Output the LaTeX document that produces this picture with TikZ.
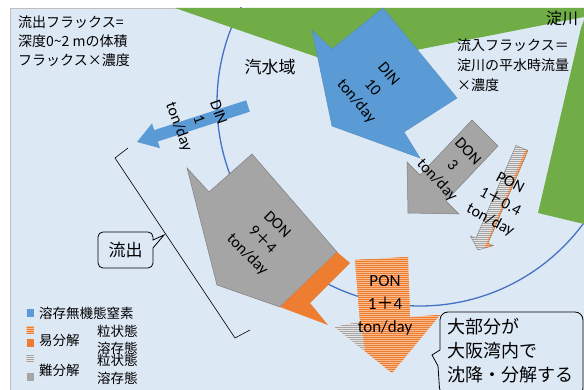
\documentclass[tikz,border=0pt]{standalone}
\usepackage{fontspec}
\setmainfont{Carlito}
\newfontfamily\jp{Noto Sans CJK JP}
\usetikzlibrary{patterns}
\definecolor{bgblue}{HTML}{DDE8F5}
\definecolor{landgreen}{HTML}{70AD47}
\definecolor{dinblue}{HTML}{5B9BD5}
\definecolor{accorange}{HTML}{ED7D31}
\definecolor{lightorange}{HTML}{F8B98C}
\definecolor{accgray}{HTML}{A5A5A5}
\definecolor{edgegray}{HTML}{7F7F7F}
\definecolor{circblue}{HTML}{4472C4}
\pgfdeclarepatternformonly{finelines}{\pgfqpoint{-1pt}{-1pt}}{\pgfqpoint{3pt}{3pt}}{\pgfqpoint{2pt}{2pt}}{%
  \pgfsetlinewidth{0.8pt}%
  \pgfpathmoveto{\pgfqpoint{-1pt}{0.5pt}}\pgfpathlineto{\pgfqpoint{3pt}{0.5pt}}\pgfusepath{stroke}}
\tikzset{
  land/.style={fill=landgreen},
  dinarrow/.style={fill=dinblue, draw=dinblue!90!black, line width=0.4pt},
  grayarrow/.style={fill=accgray, draw=edgegray, line width=0.5pt},
  orangesolid/.style={fill=accorange},
  hatchorange/.style={fill=lightorange, postaction={pattern=finelines, pattern color=accorange}},
  hatchgray/.style={fill=gray!20, postaction={pattern=finelines, pattern color=accgray}},
  flowlabel/.style={font=\fontsize{16}{21}\selectfont, align=center, inner sep=0pt, text=black},
  jplabel/.style={font=\jp\fontsize{14}{19}\selectfont, align=left, inner sep=0pt, text=black},
  legendtext/.style={font=\jp\fontsize{13.5}{16}\selectfont, inner sep=0pt, anchor=west},
  swatch/.style={minimum width=7pt, minimum height=7.5pt, inner sep=0pt},
  callout/.style={draw=black, line width=0.8pt, fill=bgblue},
  bracketline/.style={draw=black, line width=0.6pt},
}
\begin{document}
\begin{tikzpicture}[x=1pt,y=-1pt]
\useasboundingbox (0,0) rectangle (584,390);
\fill[white] (0,0) rectangle (584,390);
\fill[bgblue] (10,8) rectangle (584,390);
\draw[gray!50, line width=0.6pt] (10,390) -- (10,8) -- (584,8);
% estuary circle
\begin{scope}
  \clip (10,8) rectangle (584,390);
  \draw[circblue, line width=1.3pt] (420,103) circle[radius=203];
\end{scope}
% land
\fill[land] (175,8) -- (340,65) -- (584,17) -- (584,8) -- cycle;
\fill[land] (584,20) -- (581,28) -- (538,213) -- (584,224) -- cycle;
% DIN 10 arrow
\filldraw[dinarrow] (312,30) -- (332,49) -- (383,8) -- (457,98) -- (404,132) -- (420,158) -- (332,126) -- cycle;
% DIN 1 arrow
\fill[dinblue] (246.2,100.3) -- (249.8,111.7) -- (157.8,141.5) -- (160.0,148.2) -- (137,142) -- (152.0,123.4) -- (154.2,130.1) -- cycle;
% DON 3 arrow
\filldraw[grayarrow] (472,120) -- (498,146) -- (446,201) -- (459,214) -- (408,213) -- (407,162) -- (420,175) -- cycle;
% PON 1+0.4 arrow
\begin{scope}
  \clip (516.0,145.5) -- (528.0,150.5) -- (487.9,243.3) -- (493.4,245.6) -- (478,250) -- (470.4,236.0) -- (475.9,238.3) -- cycle;
  \fill[hatchgray] (460,130) rectangle (560,260);
  \fill[hatchorange] (533.4,131.1) -- (475.4,269.4) -- (493.8,277.1) -- (551.8,138.8) -- cycle;
\end{scope}
\draw[edgegray, line width=0.4pt] (516.0,145.5) -- (528.0,150.5) -- (487.9,243.3) -- (493.4,245.6) -- (478,250) -- (470.4,236.0) -- (475.9,238.3) -- cycle;
% DON 9+4 arrow
\filldraw[grayarrow] (187,168) -- (209,192) -- (252,154) -- (337,252) -- (280,307) -- (217,285) -- cycle;
\fill[orangesolid] (337,252) -- (350,263) -- (310,303) -- (328,325) -- (280,307) -- cycle;
% PON 1+4 arrow
\fill[hatchorange] (355,260) -- (408,257) -- (410,317) -- (440,315) -- (392,373) -- (335,327) -- (360,322) -- cycle;
\fill[hatchgray] (335,327) -- (360,322) -- (365,351) -- cycle;
% flow labels
\node[flowlabel, rotate=-50] (din10) at (372,88) {DIN\\10\\ton/day};
\node[flowlabel, rotate=-70] (din1) at (198,120) {DIN\\1\\ton/day};
\node[flowlabel, rotate=-47] (don3) at (452,166) {DON\\3\\ton/day};
\node[flowlabel, rotate=-28] (pon04) at (500,202) {PON\\1{\jp ＋}0.4\\ton/day};
\node[flowlabel, rotate=-45] (don94) at (262,240) {DON\\9{\jp ＋}4\\ton/day};
\node[flowlabel, font=\fontsize{17}{23}\selectfont] (pon14) at (385,305) {PON\\1{\jp ＋}4\\ton/day};
% texts
\node[jplabel, anchor=north west] (outflux) at (18,16) {流出フラックス=\\深度0\symbol{"7E}2 mの体積\\フラックス×濃度};
\node[jplabel, font=\jp\fontsize{17}{20}\selectfont] (kisui) at (270,67) {汽水域};
\node[jplabel, font=\jp\fontsize{16}{20}\selectfont] (yodo) at (562,18) {淀川};
\node[jplabel, anchor=north west, font=\jp\fontsize{14}{20}\selectfont] (influx) at (457,39) {流入フラックス＝\\淀川の平水時流量\\×濃度};
% bracket
\coordinate (bA) at (128,148);
\coordinate (bB) at (115,158);
\coordinate (bC) at (235,338);
\coordinate (bD) at (250,330);
\draw[bracketline] (bA) -- (bB) -- (bC) -- (bD);
% outflow callout
\coordinate (tip1) at (164,235);
\draw[callout] (153,248) [rounded corners=5pt] -- (153,268) -- (98,268) -- (98,232) -- (153,232) [sharp corners] -- (153,240) -- (tip1) -- cycle;
\node[jplabel, font=\jp\fontsize{17}{20}\selectfont] (ryushutsu) at (125.5,250) {流出};
% settle callout
\coordinate (tip2) at (432,355);
\draw[callout] (440,363) [rounded corners=8pt] -- (440,400) -- (440,400) [sharp corners] -- (440,400);
\draw[callout] (438,366) [rounded corners=8pt] -- (440,396) -- (583,396) -- (583,312) -- (440,312) [sharp corners] -- (440,350) -- (tip2) -- cycle;
\node[jplabel, anchor=north west, font=\jp\fontsize{18}{24}\selectfont] (settle) at (447,318) {大部分が\\大阪湾内で\\沈降・分解する};
% legend
\node[swatch, fill=dinblue] (sw1) at (30,313) {};
\node[legendtext] (lg1) at (39,313) {溶存無機態窒素};
\node[swatch, hatchorange] (sw2) at (30,330) {};
\node[swatch, fill=accorange] (sw3) at (30,343) {};
\node[swatch, hatchgray] (sw4) at (30,359) {};
\node[swatch, fill=accgray] (sw5) at (30,377) {};
\node[legendtext] (lg2) at (39,340) {易分解};
\node[legendtext] (lg3) at (97,331) {粒状態};
\node[legendtext] (lg4) at (97,348) {溶存態};
\node[legendtext] (lg5) at (39,370) {難分解};
\node[legendtext] (lg6) at (97,360) {粒状態};
\node[legendtext] (lg7) at (97,378) {溶存態};
\end{tikzpicture}
\end{document}
